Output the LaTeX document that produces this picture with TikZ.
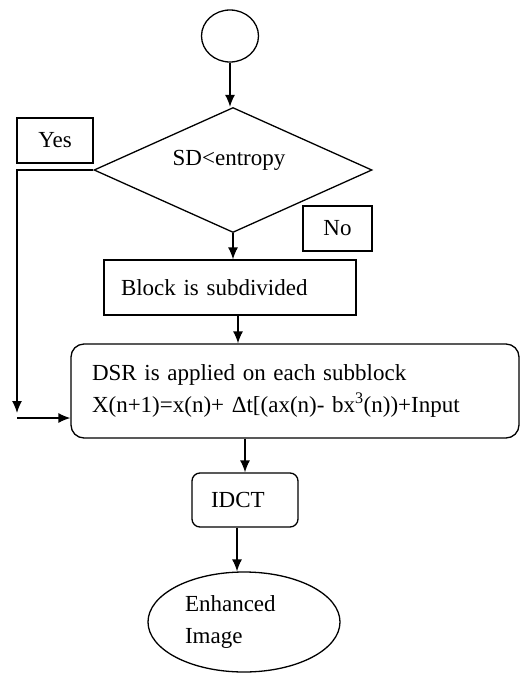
\documentclass[tikz,border=0pt]{standalone}
\usepackage{fontspec}
\setmainfont{Liberation Serif}
\usetikzlibrary{shapes.geometric,arrows.meta}
\begin{document}
\begin{tikzpicture}[x=1pt,y=-1pt,
  every node/.style={font=\fontsize{23}{32}\selectfont},
  ln/.style={line width=1.3pt},
  arr/.style={ln,-{Latex[length=12pt,width=10pt]}},
  box/.style={draw,ln,inner sep=0pt,align=left}]
\useasboundingbox (0,0) rectangle (521,673);
\node[draw,ln,ellipse,minimum width=57,minimum height=52,inner sep=0] (start) at (230,36) {};
\node[draw,ln,diamond,minimum width=278,minimum height=125,inner sep=0] (dec) at (233,170) {};
\node (dectext) at (229,160) {SD<entropy};
\node[box,minimum width=76,minimum height=45] (yes) at (55,140.5) {Yes};
\node[box,minimum width=69,minimum height=45] (no) at (337.5,228.5) {No};
\node[box,minimum width=252,minimum height=55,inner xsep=17pt,text width=218] (blk) at (230,287.5) {Block is subdivided};
\node[box,rounded corners=13pt,minimum width=448,minimum height=94,inner xsep=21pt,text width=406] (dsr) at (295,391)
  {DSR is applied on each subblock\\X(n+1)=x(n)+ Δt[(ax(n)- bx\textsuperscript{3}(n))+Input};
\node[box,rounded corners=8pt,minimum width=106,minimum height=54,inner xsep=19pt,text width=68] (idct) at (245,500) {IDCT};
\node[draw,ln,ellipse,minimum width=192,minimum height=100,inner sep=0,text width=118,align=left] (ell) at (244,622) {Enhanced\\Image};
\coordinate (yc) at (17,413);
\coordinate (yl) at (17,418);
\draw[arr] (start.south) -- (start.south |- dec.north);
\draw[arr] (dec.south) -- (dec.south |- blk.north);
\draw[arr] ([xshift=8pt]blk.south) -- ([xshift=8pt]blk.south |- dsr.north);
\draw[arr] (dsr.south -| idct.north) -- (idct.north);
\draw[arr] ([xshift=-8pt]idct.south) -- ([xshift=-8pt]idct.south |- ell.north);
\draw[arr] (dec.west) -| (yc);
\draw[arr] (yl) -- (yl -| dsr.west);
\end{tikzpicture}
\end{document}
